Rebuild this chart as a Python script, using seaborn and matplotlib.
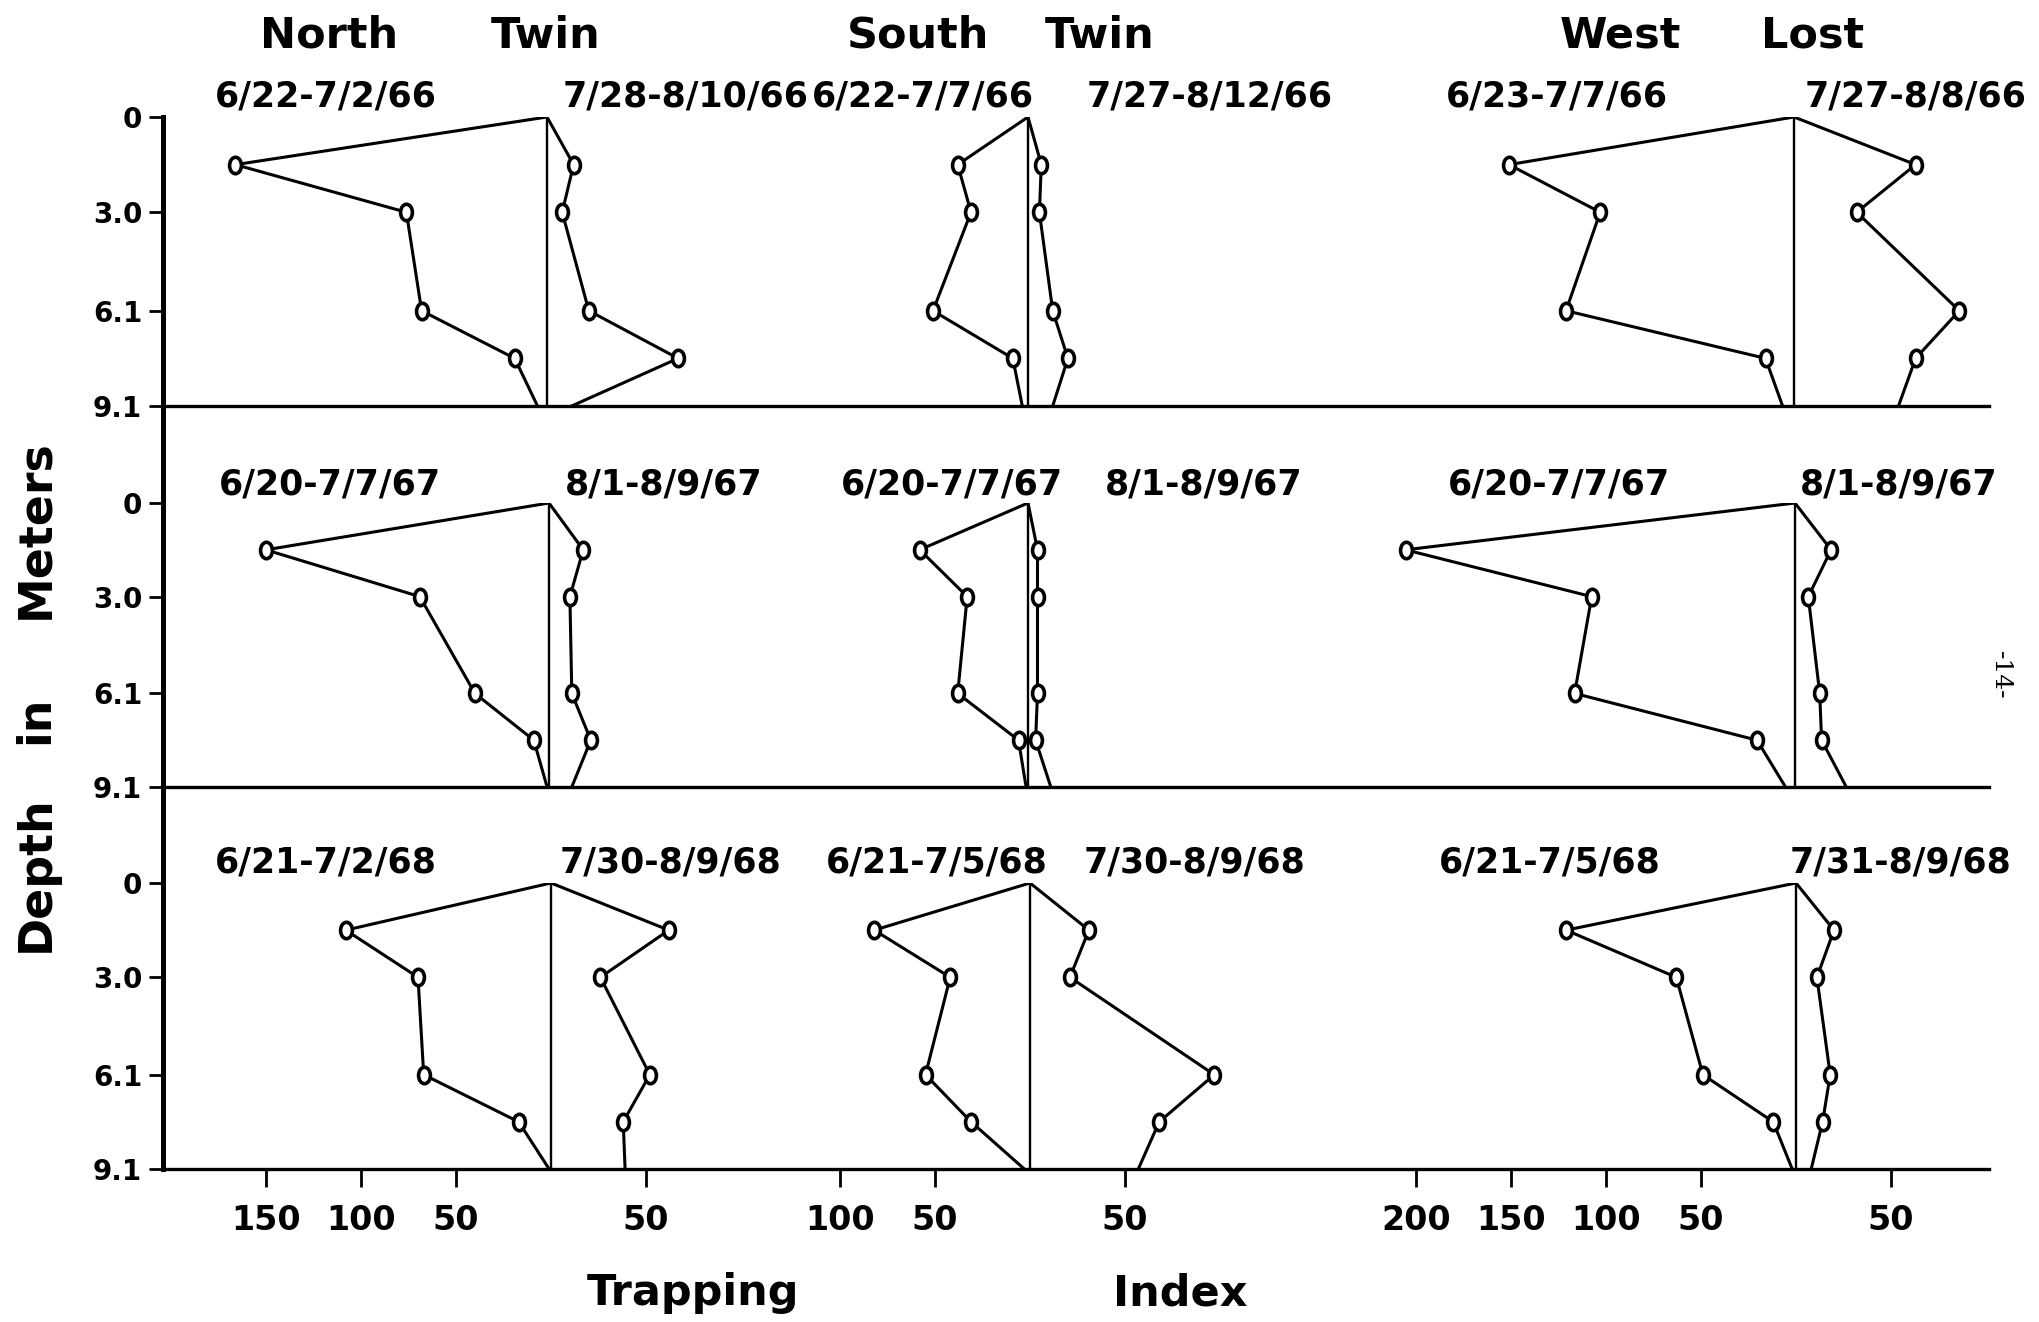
import matplotlib
matplotlib.use("Agg")
import matplotlib.pyplot as plt
from matplotlib.path import Path
from matplotlib.transforms import Affine2D
import seaborn as sns

sns.set_style("white")
plt.rcParams['font.family'] = ['DejaVu Sans']
plt.rcParams['text.color'] = 'black'
plt.rcParams['xtick.color'] = 'black'
plt.rcParams['ytick.color'] = 'black'

# depth of each sample (m); markers only on the inner ones
depths = [0, 1.5, 3.0, 6.1, 7.6, 9.1]
depth_ticks = [0, 3.0, 6.1, 9.1]
depth_ticklabels = ["0", "3.0", "6.1", "9.1"]

lakes = ["North Twin", "South Twin", "West Lost"]

# trapping index by depth: early summer (drawn to the left), late summer (to the right)
nt66_early = [0, 164, 74, 66, 17, 5]
nt66_late = [0, 14, 8, 22, 69, 13]
st66_early = [0, 37, 30, 50, 8, 3]
st66_late = [0, 7, 6, 13, 21, 13]
wl66_early = [0, 150, 102, 120, 15, 6]
wl66_late = [0, 64, 33, 87, 64, 55]

nt67_early = [0, 149, 68, 39, 8, 1]
nt67_late = [0, 18, 11, 12, 22, 12]
st67_early = [0, 57, 32, 37, 5, 1]
st67_late = [0, 5, 5, 5, 4, 12]
wl67_early = [0, 205, 107, 116, 20, 5]
wl67_late = [0, 19, 7, 13, 14, 27]

nt68_early = [0, 108, 70, 67, 17, 1]
nt68_late = [0, 62, 26, 52, 38, 39]
st68_early = [0, 82, 42, 55, 31, 3]
st68_late = [0, 31, 21, 97, 68, 57]
wl68_early = [0, 121, 63, 49, 12, 2]
wl68_late = [0, 20, 11, 18, 14, 8]

early = [[nt66_early, st66_early, wl66_early],
         [nt67_early, st67_early, wl67_early],
         [nt68_early, st68_early, wl68_early]]
late = [[nt66_late, st66_late, wl66_late],
        [nt67_late, st67_late, wl67_late],
        [nt68_late, st68_late, wl68_late]]

early_dates = [["6/22-7/2/66", "6/22-7/7/66", "6/23-7/7/66"],
               ["6/20-7/7/67", "6/20-7/7/67", "6/20-7/7/67"],
               ["6/21-7/2/68", "6/21-7/5/68", "6/21-7/5/68"]]
late_dates = [["7/28-8/10/66", "7/27-8/12/66", "7/27-8/8/66"],
              ["8/1-8/9/67", "8/1-8/9/67", "8/1-8/9/67"],
              ["7/30-8/9/68", "7/30-8/9/68", "7/31-8/9/68"]]

# bottom scale ticks for each lake (left side, right side)
left_ticks = [[150, 100, 50], [100, 50], [200, 150, 100, 50]]
right_ticks = [[50], [50], [50]]

# ---- layout (pixels) ----
W, H = 2039, 1322
row_top = [117, 503, 883]      # y of depth 0
row_bot = [406, 787, 1169]     # y of depth 9.1
centres = [[547, 1028, 1794], [549, 1028, 1795], [551, 1030, 1796]]
px_per_unit = 1.9
x_left, x_right = 163, 1989
early_lab_x = [[326, 923, 1557], [330, 952, 1559], [326, 937, 1550]]
late_lab_x = [[686, 1210, 1916], [664, 1204, 1899], [670, 1195, 1901]]
lab_y = [97, 484, 862]

ellipse = Path(Affine2D().scale(0.72, 1.0).transform(Path.unit_circle().vertices),
               Path.unit_circle().codes)

fig = plt.figure(figsize=(W / 100, H / 100), dpi=100)
fig.patch.set_facecolor("white")


def rect(top, bot, left=x_left, right=x_right):
    return [left / W, 1 - bot / H, (right - left) / W, (bot - top) / H]


# continuous depth axis on the left
frame = fig.add_axes(rect(row_top[0], row_bot[2]))
frame.patch.set_visible(False)
for s in ["top", "right", "bottom"]:
    frame.spines[s].set_visible(False)
frame.spines["left"].set_linewidth(3.6)
frame.spines["left"].set_color("black")
frame.set_xticks([])
frame.set_yticks([])

for i in range(3):
    base = fig.add_axes(rect(row_top[i], row_bot[i]))
    base.patch.set_visible(False)
    base.set_ylim(9.1, 0)
    base.set_xlim(0, 1)
    for s in ["top", "right", "left"]:
        base.spines[s].set_visible(False)
    base.spines["bottom"].set_linewidth(2.4)
    base.spines["bottom"].set_color("black")
    base.set_xticks([])
    base.set_yticks(depth_ticks)
    base.set_yticklabels(depth_ticklabels, fontsize=20, fontweight="bold")
    base.tick_params(axis="y", direction="out", length=10, width=2, pad=5,
                     left=True, color="black")

    for j, lake in enumerate(lakes):
        c = centres[i][j]
        ax = fig.add_axes(rect(row_top[i], row_bot[i]))
        ax.patch.set_visible(False)
        ax.set_xlim((x_left - c) / px_per_unit, (x_right - c) / px_per_unit)
        ax.set_ylim(9.1, 0)
        for s in ax.spines.values():
            s.set_visible(False)
        ax.set_yticks([])

        ax.axvline(0, ymin=0, ymax=1, color="black", lw=1.7)

        left_x = [-v for v in early[i][j]]
        right_x = list(late[i][j])
        for xs in (left_x, right_x):
            sns.lineplot(x=xs, y=depths, sort=False, estimator=None,
                         color="black", lw=2.2, ax=ax, legend=False)
            sns.scatterplot(x=xs[1:-1], y=depths[1:-1], marker=ellipse, s=140,
                            facecolor="white", edgecolor="black", linewidth=2.6,
                            ax=ax, zorder=4, legend=False)

        if i == 2:
            tick_vals = [-v for v in left_ticks[j]] + right_ticks[j]
            ax.set_xticks(tick_vals)
            ax.set_xticklabels([str(abs(v)) for v in tick_vals],
                               fontsize=24, fontweight="bold")
            ax.tick_params(axis="x", direction="out", length=13, width=2,
                           pad=12, bottom=True, color="black")
        else:
            ax.set_xticks([])
        ax.set_xlabel("")
        ax.set_ylabel("")

        fig.text(early_lab_x[i][j] / W, 1 - lab_y[i] / H, early_dates[i][j],
                 ha="center", va="center", fontsize=25, fontweight="bold")
        fig.text(late_lab_x[i][j] / W, 1 - lab_y[i] / H, late_dates[i][j],
                 ha="center", va="center", fontsize=25, fontweight="bold")

# lake titles
title_words = [("North", 329), ("Twin", 546), ("South", 918), ("Twin", 1100),
               ("West", 1620), ("Lost", 1813)]
for word, x in title_words:
    fig.text(x / W, 1 - 36 / H, word, ha="center", va="center",
             fontsize=31, fontweight="bold")

# axis titles
for word, y in [("Meters", 529), ("in", 720), ("Depth", 874)]:
    fig.text(36 / W, 1 - y / H, word, ha="center", va="center", rotation=90,
             fontsize=33, fontweight="bold")
for word, x in [("Trapping", 693), ("Index", 1180)]:
    fig.text(x / W, 1 - 1293 / H, word, ha="center", va="center",
             fontsize=31, fontweight="bold")

# page number
fig.text(2000 / W, 1 - 675 / H, "-14-", ha="center", va="center",
         rotation=-90, fontsize=18, family="DejaVu Serif")

fig.savefig("out.png", dpi=100, facecolor="white")
